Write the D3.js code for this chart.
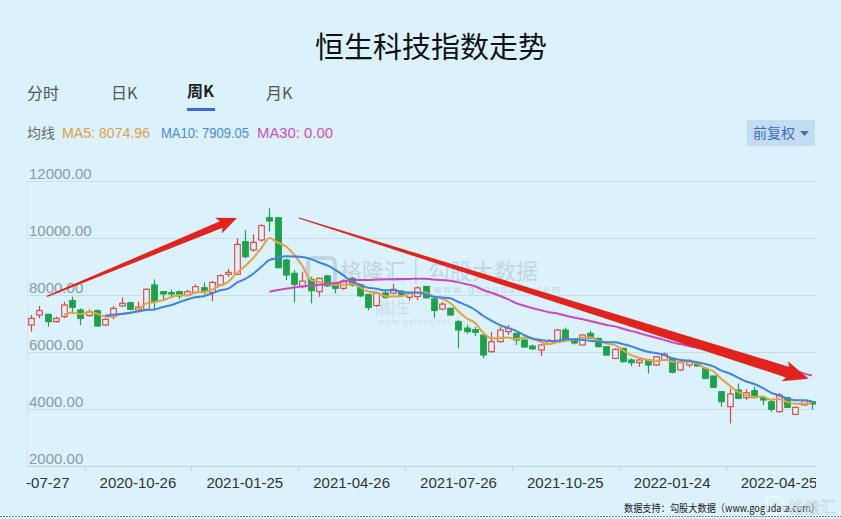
<!DOCTYPE html>
<html><head><meta charset="utf-8">
<script src="https://cdn.jsdelivr.net/npm/d3@7/dist/d3.min.js"></script>
<style>
html,body{margin:0;padding:0;background:#dbf2fc;}
svg{display:block;font-family:"Liberation Sans","Noto Sans CJK SC",sans-serif;}
</style></head>
<body>
<svg id="c" width="841" height="519"></svg>
<script>
const dates = ["2020-07-27","2020-08-03","2020-08-10","2020-08-17","2020-08-24","2020-08-31","2020-09-07","2020-09-14","2020-09-21","2020-09-28","2020-10-05","2020-10-12","2020-10-19","2020-10-26","2020-11-02","2020-11-09","2020-11-16","2020-11-23","2020-11-30","2020-12-07","2020-12-14","2020-12-21","2020-12-28","2021-01-04","2021-01-11","2021-01-18","2021-01-25","2021-02-01","2021-02-08","2021-02-15","2021-02-22","2021-03-01","2021-03-08","2021-03-15","2021-03-22","2021-03-29","2021-04-05","2021-04-12","2021-04-19","2021-04-26","2021-05-03","2021-05-10","2021-05-17","2021-05-24","2021-05-31","2021-06-07","2021-06-14","2021-06-21","2021-06-28","2021-07-05","2021-07-12","2021-07-19","2021-07-26","2021-08-02","2021-08-09","2021-08-16","2021-08-23","2021-08-30","2021-09-06","2021-09-13","2021-09-20","2021-09-27","2021-10-04","2021-10-11","2021-10-18","2021-10-25","2021-11-01","2021-11-08","2021-11-15","2021-11-22","2021-11-29","2021-12-06","2021-12-13","2021-12-20","2021-12-27","2022-01-03","2022-01-10","2022-01-17","2022-01-24","2022-01-31","2022-02-07","2022-02-14","2022-02-21","2022-02-28","2022-03-07","2022-03-14","2022-03-21","2022-03-28","2022-04-04","2022-04-11","2022-04-18","2022-04-25","2022-05-02","2022-05-09","2022-05-16","2022-05-23"];

const opens  = [6948,7298,7322,7065,7240,7802,7474,7275,7451,6948,7240,7615,7731,7474,7497,8351,8117,8082,8117,7990,8093,8256,8093,8350,8724,8724,9871,9578,9930,10713,10713,9227,8760,8292,8550,8117,8670,8409,8234,8584,8351,8020,7630,8070,8059,8130,7920,7950,8300,7865,7510,7532,7064,6840,6780,6596,6011,6362,6713,6655,6421,6210,6070,6300,6340,6772,6420,6246,6655,6480,6187,5777,6129,5720,5625,5720,5544,5720,5777,5368,5544,5625,5427,5157,4607,4081,4666,4397,4643,4397,4256,3906,4397,3812,4140,4256];
const closes = [7182,7451,7065,7182,7650,7568,7182,7416,6912,7146,7533,7708,7497,7567,8199,7767,8036,8036,7966,8117,8291,8116,8444,8678,8795,9777,9344,9848,10433,10596,8958,8701,8374,8490,8150,8584,8320,8234,8491,8351,7970,7560,8070,7920,8199,8000,8070,8250,7900,7460,7680,7298,6771,6713,6690,5894,6362,6771,6830,6421,6175,6110,6246,6390,6772,6410,6315,6597,6480,6187,5894,6093,5660,5625,5720,5544,5836,5930,5290,5625,5660,5508,5075,4760,4257,4526,4373,4572,4397,4315,3987,4490,4058,4058,4290,4175];
const highs  = [7298,7614,7340,7240,7767,7942,7533,7497,7497,7182,7614,7919,7760,7767,8234,8550,8117,8199,8153,8180,8373,8444,8490,8724,8912,9988,10280,10128,10479,11040,10713,9286,8877,8818,8643,8608,8700,8440,8550,8640,8380,8040,8120,8150,8387,8170,8100,8300,8320,7880,7750,7560,7120,6950,6880,6600,6700,6888,6947,6680,6440,6260,6270,6460,6800,6860,6450,6620,6750,6500,6200,6130,6150,5780,5760,5740,5860,5980,5800,5650,5740,5660,5450,5180,4620,4724,4900,4700,4780,4420,4330,4560,4420,4080,4320,4280];
const lows   = [6714,7182,6889,7030,7182,7334,6948,7240,6889,6912,7146,7591,7470,7415,7474,7497,7825,7884,7849,7950,8058,8022,7788,8327,8643,8701,9286,9520,9871,10222,8935,8526,7742,8233,7707,7940,8290,8058,8180,8300,7920,7460,7590,7860,8030,7960,7800,7830,7880,7200,7460,7270,6127,6640,6560,5776,5975,6330,6596,6246,6150,6060,5859,6270,6320,6390,6260,6230,6460,6160,5860,5750,5630,5500,5480,5251,5520,5700,5250,5340,5460,5480,5040,4740,4081,3496,4350,4320,4380,4140,3900,3860,4030,3790,4110,3980];

const yTicks = [2000,4000,6000,8000,10000,12000];
const xLabelIndex = [0,13,26,39,52,65,78,91];
const xTickIndex = [7,20,33,46,59,72,85];
const maPeriods = [5,10,30];
const maColors = ["#e3a33f","#3f83e2","#cc47c6"];
const tabs = ["分时","日K","周K","月K"];
const legendItems = [["均线","#6a6a6a"],["MA5: 8074.96","#e0a048"],["MA10: 7909.05","#4a8ae4"],["MA30: 0.00","#cf4cc8"]];

const BG = "#dbf2fc";
const UP = "#e5403b", DOWN = "#1ca24b";
const svg = d3.select("#c");
const L = 27, R = 816, T = 181, B = 466;

const x = d3.scaleBand().domain(dates).range([L, R]).paddingInner(0).paddingOuter(0);
const y = d3.scaleLinear().domain([2000, 12000]).range([B, T]);
const cx = i => x(dates[i]) + x.bandwidth()/2;
// fractional index position along the band scale (for annotations between candles)
const fx = i => x(dates[0]) + (i + 0.5) * x.step();

// title
svg.append("text").attr("x", 431).attr("y", 58).attr("text-anchor","middle")
  .attr("font-family","'Noto Sans CJK SC',sans-serif").attr("font-size",29).attr("fill","#111").text("恒生科技指数走势");

// tabs
const tabX = [27,111,187,266];
tabs.forEach((t,k)=>{
  svg.append("text").attr("x",tabX[k]).attr("y", k===2?97:99)
    .attr("font-family","'Noto Sans CJK SC',sans-serif").attr("font-size",16)
    .attr("font-weight",k===2?"bold":"normal").attr("fill",k===2?"#222":"#555").text(t);
});
svg.append("rect").attr("x",187).attr("y",108).attr("width",28).attr("height",3).attr("fill","#3a68e0");

// legend
const legX = [27,62,161,257];
const legW = [null,88,88,76];
legendItems.forEach((d,k)=>{
  const t = svg.append("text").attr("x",legX[k]).attr("y",138)
    .attr("font-family", k===0?"'Noto Sans CJK SC',sans-serif":"'Liberation Sans',sans-serif")
    .attr("font-size",14).attr("fill",d[1]).text(d[0]);
  if(legW[k]) t.attr("textLength",legW[k]).attr("lengthAdjust","spacingAndGlyphs");
});
// 前复权 button
svg.append("rect").attr("x",747).attr("y",120).attr("width",68).attr("height",26).attr("fill","#c3dcf2");
svg.append("text").attr("x",753).attr("y",138).attr("font-family","'Noto Sans CJK SC',sans-serif")
  .attr("font-size",14).attr("fill","#3b6fc6").text("前复权");
svg.append("path").attr("d","M800,131 L809,131 L804.5,136 Z").attr("fill","#3b6fc6");

// grid
const g = svg.append("g");
g.selectAll("line.grid").data(yTicks.slice(1)).join("line").attr("class","grid")
  .attr("x1",L).attr("x2",R).attr("y1",d=>y(d)+0.5).attr("y2",d=>y(d)+0.5)
  .attr("stroke","#c9dde7").attr("stroke-width",1);
g.append("line").attr("x1",L).attr("x2",R).attr("y1",B+0.5).attr("y2",B+0.5).attr("stroke","#c3d3dc");
g.append("line").attr("x1",L+0.5).attr("x2",L+0.5).attr("y1",T).attr("y2",B).attr("stroke","#d2e3ea");
g.selectAll("line.xt").data(xTickIndex).join("line").attr("class","xt")
  .attr("x1",i=>Math.round(x(dates[i]))+0.5).attr("x2",i=>Math.round(x(dates[i]))+0.5)
  .attr("y1",B).attr("y2",B+5).attr("stroke","#c3d3dc");
g.selectAll("text.yl").data(yTicks).join("text").attr("class","yl")
  .attr("x",29).attr("y",d=>y(d)-2).attr("font-size",15).attr("fill","#8b9aa5")
  .text(d=>d3.format(".2f")(d));
svg.append("clipPath").attr("id","xclip").append("rect").attr("x",26).attr("y",B).attr("width",R-26).attr("height",40);
g.append("g").attr("clip-path","url(#xclip)").selectAll("text").data(xLabelIndex).join("text")
  .attr("x",i=>cx(i)).attr("y",488).attr("text-anchor","middle").attr("font-size",15).attr("fill","#333")
  .text(i=>dates[i]);

// watermark
const wm = svg.append("g").attr("fill","#9fb4c6").attr("opacity",0.45);
wm.append("rect").attr("x",308).attr("y",258).attr("width",27).attr("height",26).attr("rx",5).attr("fill","none").attr("stroke","#9fb4c6").attr("stroke-width",4);
wm.append("text").attr("x",340).attr("y",279).attr("font-family","'Noto Sans CJK SC',sans-serif").attr("font-size",22).text("格隆汇");
wm.append("rect").attr("x",415).attr("y",258).attr("width",1.5).attr("height",26);
wm.append("text").attr("x",428).attr("y",279).attr("font-family","'Noto Sans CJK SC',sans-serif").attr("font-size",22).text("勾股大数据");
wm.append("text").attr("x",434).attr("y",293).attr("font-size",10).attr("letter-spacing",2.6).text("www.gogudata.com");
wm.append("text").attr("x",375).attr("y",313).attr("font-family","'Noto Sans CJK SC',sans-serif").attr("font-size",16).attr("opacity",0.7).text("融|生");
wm.append("text").attr("x",378).attr("y",324).attr("font-size",8).attr("letter-spacing",1.5).attr("opacity",0.7).text("www.gelonghui.com");

// candles
const bw = 5.6;
const idx = d3.range(dates.length);
const cg = svg.append("g");
cg.selectAll("line.w").data(idx).join("line").attr("class","w")
  .attr("x1",i=>Math.round(cx(i))+0.5).attr("x2",i=>Math.round(cx(i))+0.5)
  .attr("y1",i=>y(highs[i])).attr("y2",i=>y(lows[i]))
  .attr("stroke",i=>closes[i]>=opens[i]?UP:DOWN).attr("stroke-width",1.2);
cg.selectAll("rect.b").data(idx).join("rect").attr("class","b")
  .attr("x",i=>Math.round(cx(i))+0.5-bw/2).attr("width",bw)
  .attr("y",i=>y(Math.max(opens[i],closes[i])))
  .attr("height",i=>Math.max(1,Math.abs(y(opens[i])-y(closes[i]))))
  .attr("fill",i=>closes[i]>=opens[i]?BG:DOWN)
  .attr("stroke",i=>closes[i]>=opens[i]?UP:DOWN).attr("stroke-width",1.1);

// moving averages
maPeriods.forEach((n,k)=>{
  const pts = [];
  for(let i=n-1;i<closes.length;i++){
    pts.push([cx(i), y(d3.mean(closes.slice(i-n+1,i+1)))]);
  }
  svg.append("path").attr("d", d3.line().curve(d3.curveMonotoneX)(pts))
    .attr("fill","none").attr("stroke",maColors[k]).attr("stroke-width",2);
});

// annotation arrows (anchored in data space)
function arrow(i0,v0,i1,v1,w0,w1,hl,hw){
  const p0=[fx(i0),y(v0)], p1=[fx(i1),y(v1)];
  const dx=p1[0]-p0[0], dy=p1[1]-p0[1], len=Math.hypot(dx,dy);
  const u=[dx/len,dy/len], n=[-u[1],u[0]];
  const b=[p1[0]-u[0]*hl,p1[1]-u[1]*hl];
  const bb=[b[0]-u[0]*3,b[1]-u[1]*3];
  const P=(p,s)=>[p[0]+n[0]*s,p[1]+n[1]*s];
  const pts=[P(p0,w0/2),P(b,w1/2),P(bb,hw/2),p1,P(bb,-hw/2),P(b,-w1/2),P(p0,-w0/2)];
  svg.append("path").attr("d","M"+pts.map(p=>p.join(",")).join("L")+"Z").attr("fill","#e2231c");
}
arrow(1.93,7950,25.05,10700,1.5,7,17,17);
arrow(32.6,10700,94.6,5060,1.2,11,22,21);

// bottom credit
svg.append("line").attr("x1",0).attr("x2",841).attr("y1",516.5).attr("y2",516.5).attr("stroke","#7a8a94").attr("stroke-dasharray","2,1");
svg.append("text").attr("x",624).attr("y",512).attr("font-family","'Noto Sans CJK SC',sans-serif")
  .attr("font-size",10.5).attr("fill","#222").attr("textLength",196).attr("lengthAdjust","spacingAndGlyphs")
  .text("数据支持：勾股大数据（www.gogudata.com）");
const lg = svg.append("g").attr("opacity",0.75);
lg.append("rect").attr("x",766).attr("y",497).attr("width",17).attr("height",17).attr("rx",4).attr("fill","none").attr("stroke","#f4fbff").attr("stroke-width",2.5);
lg.append("text").attr("x",788).attr("y",513).attr("font-family","'Noto Sans CJK SC',sans-serif").attr("font-size",16)
  .attr("fill","#f4fbff").attr("stroke","#aab8c2").attr("stroke-width",0.4).text("格隆汇");
</script>
</body></html>
